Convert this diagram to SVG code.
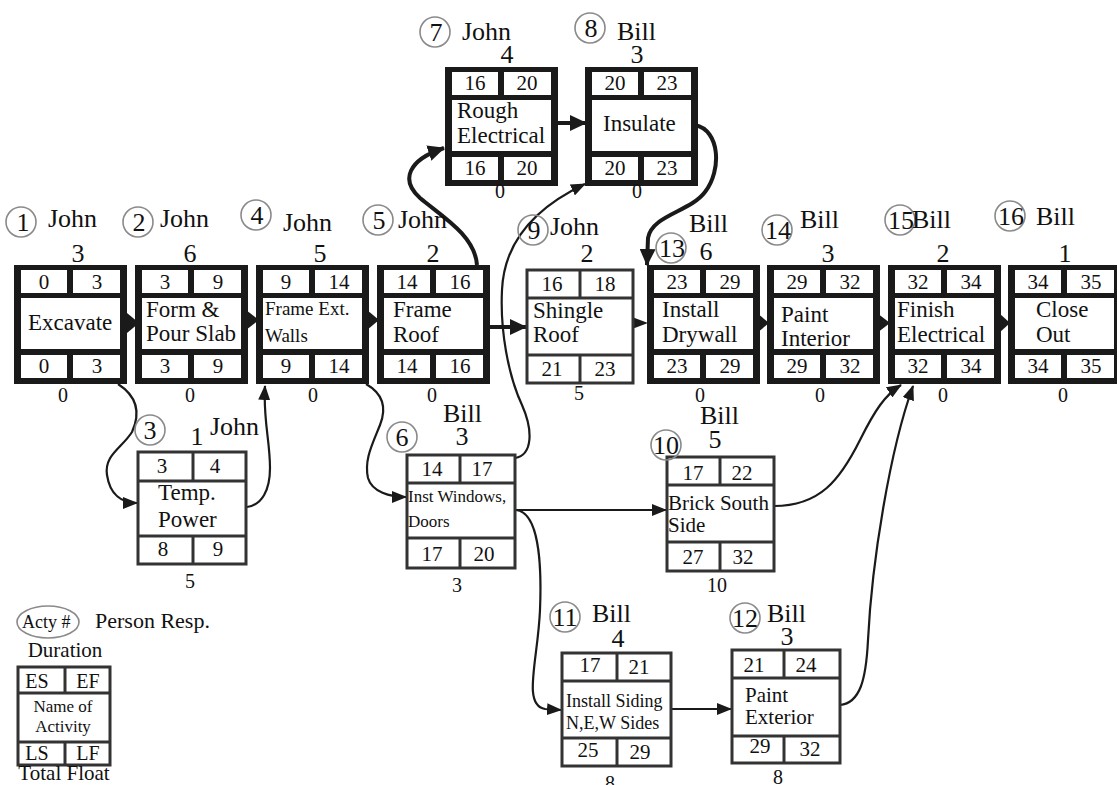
<svg xmlns="http://www.w3.org/2000/svg" xmlns:xlink="http://www.w3.org/1999/xlink" width="1117" height="785" viewBox="0 0 1117 785">
<style>
text{font-family:"Liberation Serif","Times New Roman",serif;fill:#111}
.n{font-size:21px;text-anchor:middle}
.lb{font-size:23px}
.sm{font-size:17px}
.hd{font-size:26px}
.du{font-size:26px;text-anchor:middle}
.fl{font-size:20px;text-anchor:middle}
.cn{font-size:26px;text-anchor:middle}
.circ{fill:none;stroke:#8a8a8a;stroke-width:1.6}
.thin{fill:#fff;stroke:#333;stroke-width:3}
.tl{stroke:#333;stroke-width:3}
.ck{fill:none;stroke:#1a1a1a;stroke-width:4}
.cs{fill:none;stroke:#1a1a1a;stroke-width:2.2}
.ah{fill:#1a1a1a}
</style>
<defs>
<g id="tf">
<rect width="113" height="119" fill="#1a1a1a"/>
<rect x="7" y="5" width="46" height="23" fill="#fff"/>
<rect x="59" y="5" width="47" height="23" fill="#fff"/>
<rect x="7" y="33" width="99" height="51" fill="#fff"/>
<rect x="7" y="90" width="46" height="23" fill="#fff"/>
<rect x="59" y="90" width="47" height="23" fill="#fff"/>
</g>
<marker id="big" markerUnits="userSpaceOnUse" markerWidth="18" markerHeight="16" refX="16" refY="8" orient="auto"><path d="M0,0 L17,8 L0,16 z" fill="#1a1a1a"/></marker>
<marker id="sml" markerUnits="userSpaceOnUse" markerWidth="16" markerHeight="12" refX="14" refY="6" orient="auto"><path d="M0,0 L15,6 L0,12 z" fill="#1a1a1a"/></marker>
</defs>
<rect width="1117" height="785" fill="#fff"/>

<g id="connectors">
<polygon class="ah" points="127,313 139,323 127,333"/>
<polygon class="ah" points="246,310 259,320 246,330"/>
<polygon class="ah" points="367,310 379,320 367,330"/>
<polygon class="ah" points="757,313 769,323 757,333"/>
<polygon class="ah" points="877,313 890,323 877,333"/>
<polygon class="ah" points="999,313 1010,323 999,333"/>
<polygon class="ah" points="632,317 648,323 632,329"/>
<path class="ck" d="M489,327 L526,327" marker-end="url(#big)"/>
<path class="ck" d="M556,123 L586,123" marker-end="url(#big)"/>
<path class="ck" d="M477,265 C475,235 440,215 420,198 C400,180 408,160 444,148" marker-end="url(#big)"/>
<path class="ck" d="M695,125 C720,130 722,170 705,192 C690,212 652,215 648,238 L647,265" marker-end="url(#big)"/>
<path class="cs" d="M118,384 C135,395 142,410 132,432 C122,448 104,455 107,475 C110,495 122,503 137,503" marker-end="url(#sml)"/>
<path class="cs" d="M247,507 C262,505 270,490 270,468 C270,440 263,420 265,386" marker-end="url(#sml)"/>
<path class="cs" d="M366,384 C380,392 388,405 380,425 C372,445 364,460 368,478 C372,492 390,497 406,497" marker-end="url(#sml)"/>
<path class="cs" d="M515,458 C533,455 533,430 522,405 C508,375 500,330 502,290 C504,245 530,210 585,184" marker-end="url(#sml)"/>
<path class="cs" d="M515,510 L666,510" marker-end="url(#sml)"/>
<path class="cs" d="M516,510 C538,512 542,560 540,610 C538,660 522,705 545,709 L561,710" marker-end="url(#sml)"/>
<path class="cs" d="M671,709 L731,709" marker-end="url(#sml)"/>
<path class="cs" d="M774,506 C820,506 840,480 860,440 C875,410 885,395 901,385" marker-end="url(#sml)"/>
<path class="cs" d="M840,705 C860,703 866,680 868,640 C872,560 890,450 913,386" marker-end="url(#sml)"/>
</g>

<g id="n1">
<use xlink:href="#tf" x="14" y="265"/>
<circle class="circ" cx="21" cy="222" r="15"/><text class="cn" x="23" y="231">1</text>
<text class="hd" x="48" y="227">John</text><text class="du" x="78" y="262">3</text>
<text class="n" x="44" y="289">0</text><text class="n" x="97" y="289">3</text>
<text class="lb" x="28" y="330">Excavate</text>
<text class="n" x="44" y="373">0</text><text class="n" x="97" y="373">3</text>
<text class="fl" x="63" y="402">0</text>
</g>
<g id="n2">
<use xlink:href="#tf" x="135" y="265"/>
<circle class="circ" cx="138" cy="222" r="15"/><text class="cn" x="139" y="231">2</text>
<text class="hd" x="160" y="227">John</text><text class="du" x="190" y="262">6</text>
<text class="n" x="165" y="289">3</text><text class="n" x="218" y="289">9</text>
<text class="lb" x="146" y="317">Form &amp;</text><text class="lb" x="146" y="341">Pour Slab</text>
<text class="n" x="165" y="373">3</text><text class="n" x="218" y="373">9</text>
<text class="fl" x="190" y="402">0</text>
</g>
<g id="n4">
<use xlink:href="#tf" x="256" y="265"/>
<circle class="circ" cx="256" cy="215" r="15"/><text class="cn" x="257" y="224">4</text>
<text class="hd" x="283" y="231">John</text><text class="du" x="320" y="262">5</text>
<text class="n" x="286" y="289">9</text><text class="n" x="339" y="289">14</text>
<text class="lb" x="265" y="315" style="font-size:19px">Frame Ext.</text><text class="lb" x="265" y="342" style="font-size:19px">Walls</text>
<text class="n" x="286" y="373">9</text><text class="n" x="339" y="373">14</text>
<text class="fl" x="313" y="402">0</text>
</g>
<g id="n5">
<use xlink:href="#tf" x="377" y="265"/>
<circle class="circ" cx="378" cy="220" r="15"/><text class="cn" x="379" y="229">5</text>
<text class="hd" x="398" y="228">John</text><text class="du" x="433" y="262">2</text>
<text class="n" x="407" y="289">14</text><text class="n" x="460" y="289">16</text>
<text class="lb" x="393" y="317">Frame</text><text class="lb" x="393" y="342">Roof</text>
<text class="n" x="407" y="373">14</text><text class="n" x="460" y="373">16</text>
<text class="fl" x="432" y="402">0</text>
</g>
<g id="n7">
<use xlink:href="#tf" x="445" y="67"/>
<circle class="circ" cx="435" cy="32" r="15"/><text class="cn" x="436" y="41">7</text>
<text class="hd" x="462" y="40">John</text><text class="du" x="507" y="63">4</text>
<text class="n" x="475" y="90">16</text><text class="n" x="527" y="90">20</text>
<text class="lb" x="457" y="118">Rough</text><text class="lb" x="457" y="143">Electrical</text>
<text class="n" x="475" y="175">16</text><text class="n" x="527" y="175">20</text>
<text class="fl" x="500" y="198">0</text>
</g>
<g id="n8">
<use xlink:href="#tf" x="585" y="67"/>
<circle class="circ" cx="590" cy="28" r="15"/><text class="cn" x="591" y="37">8</text>
<text class="hd" x="617" y="40">Bill</text><text class="du" x="637" y="63">3</text>
<text class="n" x="615" y="90">20</text><text class="n" x="667" y="90">23</text>
<text class="lb" x="603" y="131">Insulate</text>
<text class="n" x="615" y="175">20</text><text class="n" x="667" y="175">23</text>
<text class="fl" x="637" y="198">0</text>
</g>
<g id="n9">
<rect class="thin" x="527" y="270" width="106" height="113"/>
<line class="tl" x1="527" y1="298" x2="633" y2="298"/><line class="tl" x1="527" y1="355" x2="633" y2="355"/>
<line class="tl" x1="580" y1="270" x2="580" y2="298"/><line class="tl" x1="580" y1="355" x2="580" y2="383"/>
<circle class="circ" cx="533" cy="230" r="15"/><text class="cn" x="534" y="239">9</text>
<text class="hd" x="550" y="235">John</text><text class="du" x="587" y="262">2</text>
<text class="n" x="552" y="291">16</text><text class="n" x="605" y="291">18</text>
<text class="lb" x="533" y="318">Shingle</text><text class="lb" x="533" y="342">Roof</text>
<text class="n" x="552" y="376">21</text><text class="n" x="605" y="376">23</text>
<text class="fl" x="579" y="400">5</text>
</g>
<g id="n13">
<use xlink:href="#tf" x="647" y="265"/>
<circle class="circ" cx="671" cy="248" r="15"/><text class="cn" x="672" y="257">13</text>
<text class="hd" x="689" y="232">Bill</text><text class="du" x="706" y="260">6</text>
<text class="n" x="677" y="289">23</text><text class="n" x="730" y="289">29</text>
<text class="lb" x="662" y="317">Install</text><text class="lb" x="662" y="342">Drywall</text>
<text class="n" x="677" y="373">23</text><text class="n" x="730" y="373">29</text>
<text class="fl" x="700" y="402">0</text>
</g>
<g id="n14">
<use xlink:href="#tf" x="767" y="265"/>
<circle class="circ" cx="777" cy="230" r="15"/><text class="cn" x="778" y="239">14</text>
<text class="hd" x="800" y="228">Bill</text><text class="du" x="828" y="262">3</text>
<text class="n" x="797" y="289">29</text><text class="n" x="850" y="289">32</text>
<text class="lb" x="781" y="322">Paint</text><text class="lb" x="781" y="346">Interior</text>
<text class="n" x="797" y="373">29</text><text class="n" x="850" y="373">32</text>
<text class="fl" x="820" y="402">0</text>
</g>
<g id="n15">
<use xlink:href="#tf" x="888" y="265"/>
<circle class="circ" cx="900" cy="220" r="15"/><text class="cn" x="901" y="229">15</text>
<text class="hd" x="912" y="228">Bill</text><text class="du" x="943" y="262">2</text>
<text class="n" x="918" y="289">32</text><text class="n" x="971" y="289">34</text>
<text class="lb" x="897" y="317">Finish</text><text class="lb" x="897" y="342">Electrical</text>
<text class="n" x="918" y="373">32</text><text class="n" x="971" y="373">34</text>
<text class="fl" x="943" y="402">0</text>
</g>
<g id="n16">
<use xlink:href="#tf" x="1008" y="265"/>
<circle class="circ" cx="1010" cy="216" r="15"/><text class="cn" x="1011" y="225">16</text>
<text class="hd" x="1036" y="225">Bill</text><text class="du" x="1065" y="262">1</text>
<text class="n" x="1038" y="289">34</text><text class="n" x="1091" y="289">35</text>
<text class="lb" x="1036" y="317">Close</text><text class="lb" x="1036" y="342">Out</text>
<text class="n" x="1038" y="373">34</text><text class="n" x="1091" y="373">35</text>
<text class="fl" x="1063" y="402">0</text>
</g>
<g id="n3">
<rect class="thin" x="138" y="452" width="108" height="112"/>
<line class="tl" x1="138" y1="481" x2="246" y2="481"/><line class="tl" x1="138" y1="536" x2="246" y2="536"/>
<line class="tl" x1="193" y1="452" x2="193" y2="481"/><line class="tl" x1="193" y1="536" x2="193" y2="564"/>
<circle class="circ" cx="150" cy="430" r="15"/><text class="cn" x="150" y="439">3</text>
<text class="du" x="197" y="445">1</text><text class="hd" x="210" y="435">John</text>
<text class="n" x="162" y="473">3</text><text class="n" x="215" y="473">4</text>
<text class="lb" x="158" y="500">Temp.</text><text class="lb" x="158" y="527">Power</text>
<text class="n" x="163" y="556">8</text><text class="n" x="218" y="556">9</text>
<text class="fl" x="190" y="588">5</text>
</g>
<g id="n6">
<rect class="thin" x="407" y="455" width="108" height="113"/>
<line class="tl" x1="407" y1="483" x2="515" y2="483"/><line class="tl" x1="407" y1="538" x2="515" y2="538"/>
<line class="tl" x1="460" y1="455" x2="460" y2="483"/><line class="tl" x1="460" y1="538" x2="460" y2="568"/>
<circle class="circ" cx="402" cy="437" r="15"/><text class="cn" x="402" y="446">6</text>
<text class="hd" x="443" y="422">Bill</text><text class="du" x="462" y="445">3</text>
<text class="n" x="432" y="476">14</text><text class="n" x="482" y="476">17</text>
<text class="sm" x="408" y="502">Inst Windows,</text><text class="sm" x="408" y="527">Doors</text>
<text class="n" x="432" y="561">17</text><text class="n" x="484" y="561">20</text>
<text class="fl" x="457" y="592">3</text>
</g>
<g id="n10">
<rect class="thin" x="667" y="457" width="107" height="114"/>
<line class="tl" x1="667" y1="485" x2="774" y2="485"/><line class="tl" x1="667" y1="542" x2="774" y2="542"/>
<line class="tl" x1="720" y1="457" x2="720" y2="485"/><line class="tl" x1="720" y1="542" x2="720" y2="571"/>
<circle class="circ" cx="666" cy="445" r="15"/><text class="cn" x="666" y="454">10</text>
<text class="hd" x="700" y="424">Bill</text><text class="du" x="715" y="448">5</text>
<text class="n" x="693" y="480">17</text><text class="n" x="742" y="480">22</text>
<text class="lb" x="668" y="510" style="font-size:21px">Brick South</text><text class="lb" x="668" y="532" style="font-size:21px">Side</text>
<text class="n" x="693" y="564">27</text><text class="n" x="743" y="564">32</text>
<text class="fl" x="717" y="592">10</text>
</g>
<g id="n11">
<rect class="thin" x="562" y="653" width="109" height="113"/>
<line class="tl" x1="562" y1="681" x2="671" y2="681"/><line class="tl" x1="562" y1="738" x2="671" y2="738"/>
<line class="tl" x1="617" y1="653" x2="617" y2="681"/><line class="tl" x1="617" y1="738" x2="617" y2="766"/>
<circle class="circ" cx="565" cy="617" r="15"/><text class="cn" x="565" y="626">11</text>
<text class="hd" x="592" y="622">Bill</text><text class="du" x="618" y="647">4</text>
<text class="n" x="590" y="672">17</text><text class="n" x="639" y="674">21</text>
<text class="sm" x="566" y="707" style="font-size:18px">Install Siding</text><text class="sm" x="566" y="729" style="font-size:18px">N,E,W Sides</text>
<text class="n" x="588" y="757">25</text><text class="n" x="640" y="759">29</text>
<text class="fl" x="610" y="790">8</text>
</g>
<g id="n12">
<rect class="thin" x="732" y="650" width="108" height="113"/>
<line class="tl" x1="732" y1="678" x2="840" y2="678"/><line class="tl" x1="732" y1="736" x2="840" y2="736"/>
<line class="tl" x1="784" y1="650" x2="784" y2="678"/><line class="tl" x1="784" y1="736" x2="784" y2="763"/>
<circle class="circ" cx="745" cy="618" r="15"/><text class="cn" x="745" y="627">12</text>
<text class="hd" x="767" y="622">Bill</text><text class="du" x="787" y="645">3</text>
<text class="n" x="754" y="672">21</text><text class="n" x="806" y="672">24</text>
<text class="lb" x="745" y="702" style="font-size:21px">Paint</text><text class="lb" x="745" y="724" style="font-size:21px">Exterior</text>
<text class="n" x="760" y="753">29</text><text class="n" x="810" y="756">32</text>
<text class="fl" x="778" y="784">8</text>
</g>
<g id="legend">
<ellipse class="circ" cx="48" cy="622" rx="31" ry="16"/>
<text x="22" y="628" style="font-size:18px">Acty #</text>
<text x="95" y="628" style="font-size:22px">Person Resp.</text>
<text x="65" y="657" style="font-size:21px;text-anchor:middle">Duration</text>
<rect class="thin" x="18" y="667" width="92" height="98"/>
<line class="tl" x1="18" y1="693" x2="110" y2="693"/><line class="tl" x1="18" y1="742" x2="110" y2="742"/>
<line class="tl" x1="65" y1="667" x2="65" y2="693"/><line class="tl" x1="65" y1="742" x2="65" y2="765"/>
<text x="37" y="688" style="font-size:20px;text-anchor:middle">ES</text><text x="88" y="688" style="font-size:20px;text-anchor:middle">EF</text>
<text x="63" y="712" style="font-size:17px;text-anchor:middle">Name of</text><text x="63" y="732" style="font-size:17px;text-anchor:middle">Activity</text>
<text x="37" y="760" style="font-size:20px;text-anchor:middle">LS</text><text x="88" y="760" style="font-size:20px;text-anchor:middle">LF</text>
<text x="64" y="780" style="font-size:21px;text-anchor:middle">Total Float</text>
</g>
</svg>
